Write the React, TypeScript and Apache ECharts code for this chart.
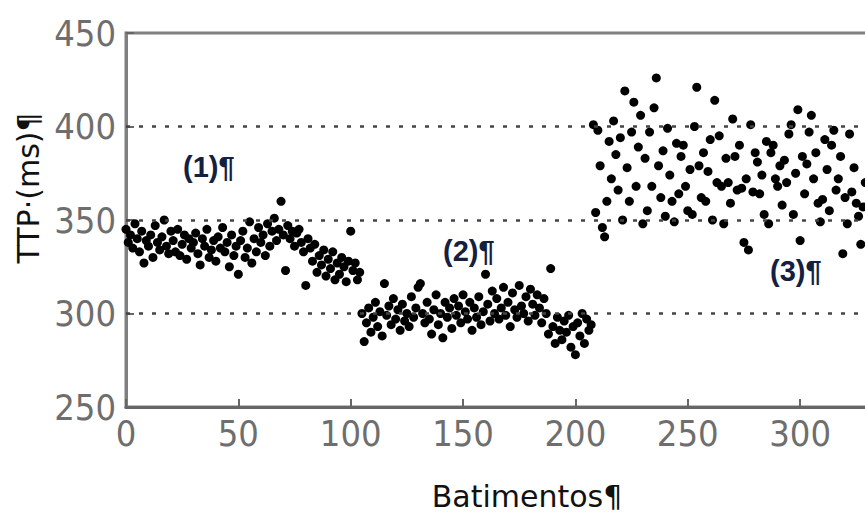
import React, { useEffect, useRef } from "react";
import * as echarts from "echarts";

// TTP (ms) per beat, three phases
const phase1: number[] = [
  345, 338, 342, 335, 348, 340, 333, 344, 327, 339,
  336, 342, 330, 347, 338, 334, 341, 350, 336, 332,
  344, 339, 333, 345, 331, 337, 342, 329, 340, 335,
  338, 343, 332, 326, 340, 336, 345, 330, 334, 339,
  328, 341, 335, 346, 333, 338, 325, 342, 331, 336,
  321, 339, 344, 330, 335, 349, 327, 340, 333, 346,
  338, 342, 331, 348, 336, 344, 351, 339, 345, 360,
  342, 323, 347, 340, 344, 336, 343, 345, 338, 333,
  315, 340, 335, 328, 337, 322, 331, 326, 334, 320,
  329, 324, 333, 318, 327, 321, 330, 325, 317, 328,
  344, 323, 327, 318, 322,
];
const phase2: number[] = [
  300, 285, 295, 303, 290, 298, 306, 293, 301, 288,
  316, 299, 304, 294, 308, 297, 302, 291, 305, 296,
  300, 293, 309, 298, 303, 314, 316, 300, 295, 306,
  297, 289, 302, 310, 294, 300, 287, 306, 298, 303,
  292, 308, 299, 304, 295, 310, 301, 297, 306, 291,
  303, 298, 309, 294, 301, 321, 305, 296, 312, 300,
  308, 297, 303, 314, 299, 306, 293, 311, 302, 298,
  315, 304, 300, 309, 296, 313, 305, 299, 310, 303,
  295, 308, 300, 289, 324, 293, 284, 298, 291, 286,
  296, 290, 299, 282, 293, 278, 295, 288, 300, 284,
  297, 291, 294,
];
const phase3: number[] = [
  401, 354, 398, 379, 346, 341, 360, 392, 372, 403,
  385, 366, 394, 350, 419, 378, 360, 397, 413, 368,
  389, 406, 348, 383, 355, 397, 368, 410, 426, 379,
  362, 387, 352, 399, 374, 360, 349, 391, 364, 384,
  390, 368, 355, 377, 353, 400, 421, 379, 362, 386,
  360, 376, 393, 350, 414, 370, 395, 368, 348, 383,
  370, 359, 404, 384, 366, 390, 367, 338, 372, 334,
  401, 365, 386, 381, 364, 374, 353, 392, 348, 386,
  390, 372, 368, 379, 358, 382, 370, 396, 401, 353,
  375, 409, 339, 384, 364, 380, 397, 406, 372, 386,
  359, 349, 361, 393, 377, 355, 390, 398, 366, 372,
  384, 332, 362, 348, 396, 365, 378, 359, 352, 337,
  357, 370,
];
const yTicks: number[] = [250, 300, 350, 400, 450];
const gridLevels: number[] = [300, 350, 400];
const annotations: string[] = ["(1)¶", "(2)¶", "(3)¶"];
const xTitle = "Batimentos¶";
const yTitle = "TTP·(ms)¶";

export default function App() {
  const ref = useRef<HTMLDivElement>(null);
  useEffect(() => {
    document.body.style.margin = "0";
    const chart = echarts.init(ref.current!, null, { renderer: "svg" });
    const all = [...phase1, ...phase2, ...phase3];
    const data = all.map((v, i) => [i, v]);
    const labelFont = "'DejaVu Sans Condensed', 'DejaVu Sans', sans-serif";
    chart.setOption({
      animation: false,
      backgroundColor: "#fff",
      grid: {
        left: 126,
        top: 33,
        width: 764,
        bottom: 108,
        show: true,
        borderColor: "#808080",
        borderWidth: 3,
        containLabel: false,
        outerBoundsMode: "none",
      },
      xAxis: {
        type: "value",
        min: 0,
        max: 340,
        interval: 50,
        axisLine: { show: true, lineStyle: { color: "#666", width: 3 } },
        axisTick: { show: true, inside: true, length: 8, lineStyle: { color: "#666", width: 2 } },
        splitLine: { show: false },
        axisLabel: {
          color: "#6e6e6e",
          fontSize: 36,
          fontFamily: labelFont,
          margin: 8,
          showMaxLabel: false,
        },
      },
      yAxis: {
        type: "value",
        min: yTicks[0],
        max: yTicks[yTicks.length - 1],
        interval: 50,
        axisLine: { show: true, lineStyle: { color: "#808080", width: 3 } },
        axisTick: { show: true, inside: true, length: 8, lineStyle: { color: "#666", width: 2 } },
        splitLine: { show: false },
        axisLabel: {
          color: "#6e6e6e",
          fontSize: 36,
          fontFamily: labelFont,
          margin: 10,
        },
      },
      series: [
        {
          type: "scatter",
          data,
          symbol: "circle",
          symbolSize: 9,
          itemStyle: { color: "#000", opacity: 1 },
          markLine: {
            silent: true,
            symbol: "none",
            label: { show: false },
            lineStyle: { color: "#444", type: [4, 9], width: 2.5 },
            data: gridLevels.map((y) => ({ yAxis: y })),
          },
          z: 3,
        },
      ],
      graphic: [
        {
          type: "text",
          x: 183,
          y: 152,
          style: { text: annotations[0], fontSize: 29, fontWeight: "bold", fill: "#14203f", fontFamily: "Liberation Sans" },
        },
        {
          type: "text",
          x: 443,
          y: 236,
          style: { text: annotations[1], fontSize: 29, fontWeight: "bold", fill: "#14203f", fontFamily: "Liberation Sans" },
        },
        {
          type: "text",
          x: 770,
          y: 256,
          style: { text: annotations[2], fontSize: 29, fontWeight: "bold", fill: "#14203f", fontFamily: "Liberation Sans" },
        },
        {
          type: "text",
          x: 527,
          y: 496,
          style: {
            text: xTitle,
            fontSize: 30,
            fill: "#111",
            fontFamily: "DejaVu Sans",
            align: "center",
            verticalAlign: "middle",
          },
        },
        {
          type: "text",
          x: 28,
          y: 188,
          rotation: Math.PI / 2,
          style: {
            text: yTitle,
            fontSize: 30,
            fill: "#111",
            fontFamily: "DejaVu Sans",
            align: "center",
            verticalAlign: "middle",
          },
        },
      ],
    });
    return () => chart.dispose();
  }, []);
  return <div ref={ref} style={{ width: 865, height: 515 }} />;
}
